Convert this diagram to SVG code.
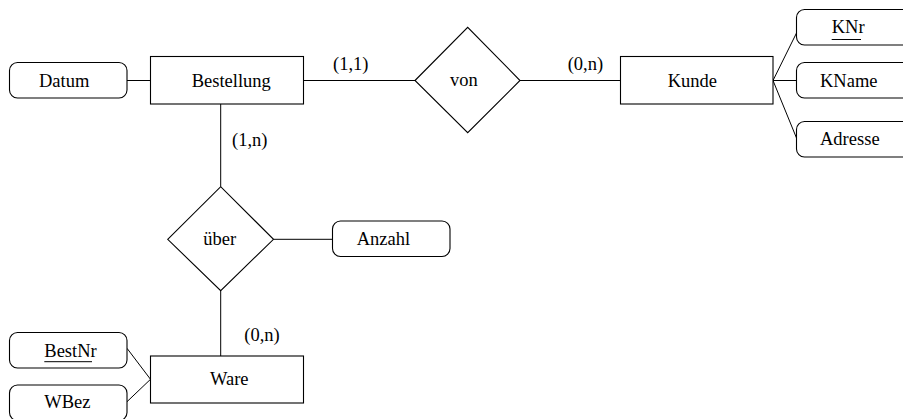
<svg xmlns="http://www.w3.org/2000/svg" width="903" height="419" viewBox="0 0 903 419">
<style>
.s{fill:#fff;stroke:#000;stroke-width:1.1}
.l{stroke:#000;stroke-width:1;fill:none}
text{font-family:"Liberation Serif","Times New Roman",serif;font-size:18.5px;fill:#000}
</style>
<rect width="903" height="419" fill="#fff"/>
<g id="connectors">
<line class="l" x1="127" y1="80.5" x2="150.5" y2="80.5"/>
<line class="l" x1="303.5" y1="80.5" x2="415" y2="80.5"/>
<line class="l" x1="520" y1="80.5" x2="620.5" y2="80.5"/>
<line class="l" x1="773" y1="80.5" x2="796.5" y2="33"/>
<line class="l" x1="773" y1="80.5" x2="796.5" y2="80.5"/>
<line class="l" x1="773" y1="80.5" x2="796.5" y2="138"/>
<line class="l" x1="220.7" y1="104" x2="220.7" y2="186.7"/>
<line class="l" x1="220.7" y1="290.7" x2="220.7" y2="356"/>
<line class="l" x1="273.5" y1="239.3" x2="332.5" y2="239.3"/>
<line class="l" x1="127" y1="348.3" x2="150.5" y2="379.3"/>
<line class="l" x1="127" y1="401.7" x2="150.5" y2="379.3"/>
<text x="333" y="70">(1,1)</text>
<text x="567.7" y="70">(0,n)</text>
<text x="232" y="146">(1,n)</text>
<text x="244.3" y="341">(0,n)</text>
</g>
<g id="Datum"><rect class="s" x="9.5" y="62.5" width="117.5" height="35.5" rx="8"/><text x="39" y="86.5">Datum</text></g>
<g id="Bestellung"><rect class="s" x="150.5" y="56.5" width="153" height="47.5"/><text x="191.7" y="86.7">Bestellung</text></g>
<g id="von"><polygon class="s" points="415,80.5 467.7,27.3 520,80.5 467.7,132.7"/><text x="450" y="85.5">von</text></g>
<g id="Kunde"><rect class="s" x="620.5" y="56.5" width="152.5" height="47.5"/><text x="667.7" y="86.7">Kunde</text></g>
<g id="KNr"><rect class="s" x="796.5" y="9.5" width="118" height="35.5" rx="8"/><text x="831.7" y="33.3">KNr</text><line class="l" x1="831.7" y1="39.5" x2="861" y2="39.5"/></g>
<g id="KName"><rect class="s" x="796.5" y="62.5" width="118" height="35.5" rx="8"/><text x="820" y="86.7">KName</text></g>
<g id="Adresse"><rect class="s" x="796.5" y="121.5" width="118" height="35.5" rx="8"/><text x="820" y="145">Adresse</text></g>
<g id="ueber"><polygon class="s" points="167.7,239.3 220.7,186.7 273.5,239.3 220.7,290.7"/><text x="203.3" y="245">über</text></g>
<g id="Anzahl"><rect class="s" x="332.5" y="221" width="117.5" height="35.5" rx="8"/><text x="356.7" y="245">Anzahl</text></g>
<g id="Ware"><rect class="s" x="150.5" y="356" width="153" height="47"/><text x="210" y="385">Ware</text></g>
<g id="BestNr"><rect class="s" x="9.5" y="332.5" width="117.5" height="35.5" rx="8"/><text x="44.3" y="356.7">BestNr</text><line class="l" x1="44.3" y1="361.7" x2="92" y2="361.7"/></g>
<g id="WBez"><rect class="s" x="9.5" y="385" width="117.5" height="35.5" rx="8"/><text x="44.3" y="408.3">WBez</text></g>
</svg>
